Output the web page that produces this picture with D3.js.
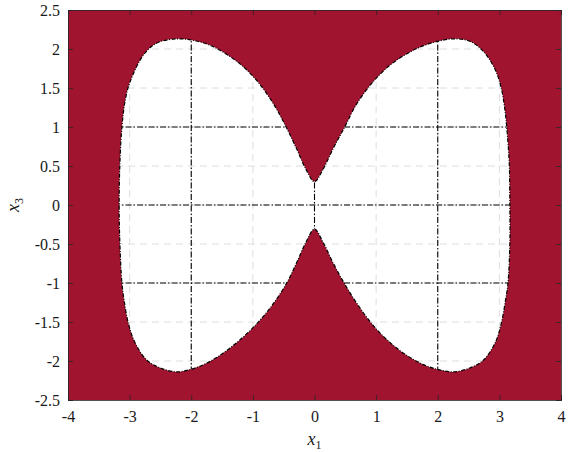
<!DOCTYPE html>
<html>
<head>
<meta charset="utf-8">
<script src="https://cdn.jsdelivr.net/npm/d3@7"></script>
<style>
    body { margin: 0; background: #fff; }
    svg text { font-family: "Liberation Serif", serif; fill: #1a1a1a; }
</style>
</head>
<body>
<svg id="chart"></svg>
<script>
"use strict";

// Graph dimensions
const width = 569;
const height = 452;
const margin = { top: 10, right: 8, bottom: 52, left: 68 };

// Tick values
const xTicks = [-4, -3, -2, -1, 0, 1, 2, 3, 4];
const yTicks = [-2.5, -2, -1.5, -1, -0.5, 0, 0.5, 1, 1.5, 2, 2.5];

// Black dash-dot reference lines inside the region
const xLines = [-2, 0, 2];
const yLines = [-1, 0, 1];

// Boundary of the white region (x1, x3), going clockwise from the upper cusp
const upperRight = [
    [0, 0.30], [0.14, 0.46], [0.30, 0.72], [0.49, 1.00], [0.68, 1.29], [0.95, 1.58],
    [1.22, 1.79], [1.50, 1.94], [1.76, 2.04], [2.01, 2.10], [2.25, 2.13], [2.52, 2.10],
    [2.74, 1.97], [2.93, 1.74], [3.03, 1.50], [3.09, 1.22], [3.12, 0.99], [3.16, 0.54],
    [3.17, 0.0]
];
const lowerRight = [
    [3.17, -0.49], [3.14, -1.00], [3.10, -1.22], [3.03, -1.52], [2.93, -1.77], [2.74, -1.99],
    [2.52, -2.09], [2.25, -2.14], [2.01, -2.11], [1.78, -2.05], [1.52, -1.94], [1.25, -1.78],
    [0.98, -1.57], [0.72, -1.30], [0.48, -1.00], [0.30, -0.74], [0.14, -0.48], [0, -0.31]
];
const lowerLeft = [
    [-0.14, -0.48], [-0.29, -0.74], [-0.45, -1.00], [-0.70, -1.30], [-0.97, -1.55], [-1.24, -1.75],
    [-1.52, -1.92], [-1.78, -2.04], [-2.02, -2.11], [-2.23, -2.14], [-2.50, -2.09], [-2.72, -1.99],
    [-2.91, -1.77], [-3.02, -1.52], [-3.09, -1.22], [-3.125, -1.00], [-3.16, -0.45], [-3.17, 0.0]
];
const upperLeft = [
    [-3.16, 0.49], [-3.125, 1.00], [-3.07, 1.35], [-2.99, 1.585], [-2.77, 1.93], [-2.55, 2.08],
    [-2.23, 2.13], [-1.96, 2.11], [-1.70, 2.05], [-1.44, 1.94], [-1.18, 1.79], [-0.92, 1.58],
    [-0.66, 1.29], [-0.46, 1.00], [-0.29, 0.72], [-0.14, 0.46]
];

const redFill = "#a1142f";
const axisColor = "#262626";

const svg = d3.select("#chart")
    .attr("width", width)
    .attr("height", height);

const innerW = width - margin.left - margin.right;
const innerH = height - margin.top - margin.bottom;

const xScale = d3.scaleLinear().domain([-4, 4]).range([0, innerW]);
const yScale = d3.scaleLinear().domain([-2.5, 2.5]).range([innerH, 0]);

const g = svg.append("g")
    .attr("transform", `translate(${margin.left}, ${margin.top})`);

const boundary = upperRight.concat(lowerRight, lowerLeft, upperLeft);
const shapeLine = d3.line()
    .x(d => xScale(d[0]))
    .y(d => yScale(d[1]))
    .curve(d3.curveCatmullRomClosed.alpha(0.5));

// clip everything inside the white region
svg.append("defs").append("clipPath")
    .attr("id", "region")
    .append("path")
    .attr("d", shapeLine(boundary));

// red background
g.append("rect")
    .attr("width", innerW)
    .attr("height", innerH)
    .attr("fill", redFill);

g.append("path")
    .attr("d", shapeLine(boundary))
    .attr("fill", "#fff");

// light grid, only visible in the white region
const grid = g.append("g").attr("clip-path", "url(#region)");
grid.selectAll(".gx").data(xTicks).join("line")
    .attr("class", "gx")
    .attr("x1", d => xScale(d)).attr("x2", d => xScale(d))
    .attr("y1", 0).attr("y2", innerH)
    .attr("stroke", "#dedede").attr("stroke-width", 1)
    .attr("stroke-dasharray", "7,5");
grid.selectAll(".gy").data(yTicks).join("line")
    .attr("class", "gy")
    .attr("x1", 0).attr("x2", innerW)
    .attr("y1", d => yScale(d)).attr("y2", d => yScale(d))
    .attr("stroke", "#dedede").attr("stroke-width", 1)
    .attr("stroke-dasharray", "7,5");

// black dash-dot lines
const dashDot = "6,2,1.5,2";
const refLines = g.append("g").attr("clip-path", "url(#region)");
refLines.selectAll(".rx").data(xLines).join("line")
    .attr("class", "rx")
    .attr("x1", d => xScale(d)).attr("x2", d => xScale(d))
    .attr("y1", 0).attr("y2", innerH)
    .attr("stroke", "#000").attr("stroke-width", 1.1)
    .attr("stroke-dasharray", dashDot);
refLines.selectAll(".ry").data(yLines).join("line")
    .attr("class", "ry")
    .attr("x1", 0).attr("x2", innerW)
    .attr("y1", d => yScale(d)).attr("y2", d => yScale(d))
    .attr("stroke", "#000").attr("stroke-width", 1.1)
    .attr("stroke-dasharray", dashDot);

// boundary outline
g.append("path")
    .attr("d", shapeLine(boundary))
    .attr("fill", "none")
    .attr("stroke", "#000")
    .attr("stroke-width", 1.2)
    .attr("stroke-dasharray", "4,1.5,1,1.5");

// axes (ticks inward on all four sides)
const fmt = d => String(d);
const axisB = g.append("g").attr("transform", `translate(0, ${innerH})`)
    .call(d3.axisBottom(xScale).tickValues(xTicks).tickSize(-5).tickPadding(11).tickFormat(fmt));
const axisL = g.append("g")
    .call(d3.axisLeft(yScale).tickValues(yTicks).tickSize(-5).tickPadding(8).tickFormat(fmt));
const axisT = g.append("g")
    .call(d3.axisTop(xScale).tickValues(xTicks).tickSize(-5).tickFormat(""));
const axisR = g.append("g").attr("transform", `translate(${innerW}, 0)`)
    .call(d3.axisRight(yScale).tickValues(yTicks).tickSize(-5).tickFormat(""));

[axisB, axisL, axisT, axisR].forEach(a => {
    a.attr("font-family", "Liberation Serif").attr("font-size", 16);
    a.selectAll("path").attr("stroke", axisColor).attr("stroke-width", 0.8);
    a.selectAll("line").attr("stroke", axisColor).attr("stroke-width", 0.8);
    a.selectAll("text").attr("fill", "#1a1a1a");
});

// axis labels
const xLabel = g.append("text")
    .attr("x", innerW / 2)
    .attr("y", innerH + 45)
    .attr("text-anchor", "middle")
    .attr("font-size", 18);
xLabel.append("tspan").attr("font-style", "italic").text("x");
xLabel.append("tspan").attr("font-size", 12).attr("dy", 4).text("1");

const yLabel = g.append("text")
    .attr("transform", `translate(${-49}, ${innerH / 2}) rotate(-90)`)
    .attr("text-anchor", "middle")
    .attr("font-size", 18);
yLabel.append("tspan").attr("font-style", "italic").text("x");
yLabel.append("tspan").attr("font-size", 12).attr("dy", 4).text("3");
</script>
</body>
</html>
